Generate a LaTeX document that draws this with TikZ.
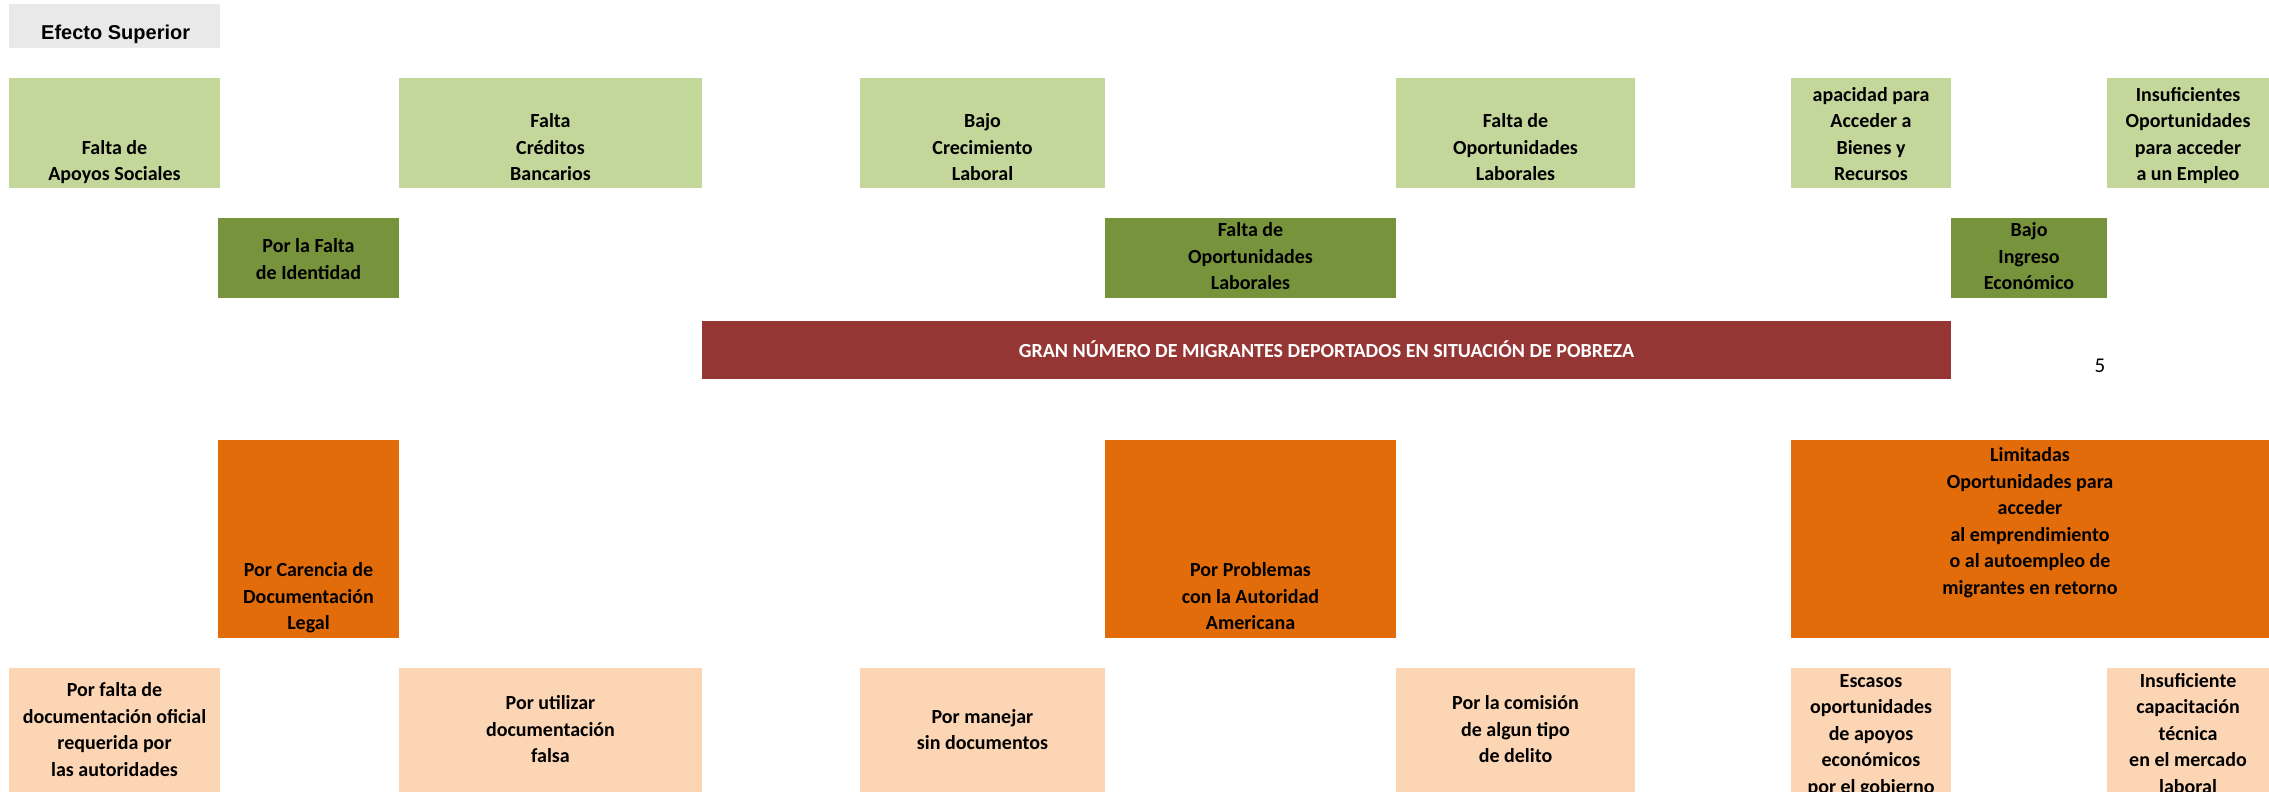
\documentclass[tikz,border=0pt]{standalone}
\usepackage{fontspec}
\setmainfont{Carlito}
\newfontfamily\arialfont{Liberation Sans}
\definecolor{lgreen}{HTML}{C4D79B}
\definecolor{dgreen}{HTML}{77933C}
\definecolor{darkred}{HTML}{963634}
\definecolor{orangebox}{HTML}{E26B0A}
\definecolor{peach}{HTML}{FCD5B4}
\definecolor{graybox}{HTML}{E9E9E9}
\newcommand\lns[1]{\vtop{\halign{\hfil##\hfil\cr#1\crcr}}}
\tikzset{
  cell/.style={draw=none, inner sep=0pt, outer sep=0pt, anchor=north west, rectangle},
  lg/.style={cell, fill=lgreen},
  dg/.style={cell, fill=dgreen},
  rb/.style={cell, fill=darkred},
  ob/.style={cell, fill=orangebox},
  pb/.style={cell, fill=peach},
  gb/.style={cell, fill=graybox},
  txt/.style={inner sep=0pt, anchor=base, font=\fontsize{20}{26.5}\selectfont\bfseries, text=black},
}
\begin{document}
\begin{tikzpicture}[x=1pt, y=-1pt]
\useasboundingbox (0,0) rectangle (2269,792);
\clip (0,0) rectangle (2269,792);

% header
\node[gb, minimum width=211pt, minimum height=44pt] (hdr) at (9,4) {};
\node[inner sep=0pt, anchor=base west, font=\arialfont\fontsize{20}{24}\selectfont\bfseries] (hdrt) at (41,40) {Efecto Superior};

% top row (effects)
\node[lg, minimum width=211pt, minimum height=110pt] (e1) at (9,78) {};
\node[lg, minimum width=303pt, minimum height=110pt] (e2) at (399,78) {};
\node[lg, minimum width=245pt, minimum height=110pt] (e3) at (860,78) {};
\node[lg, minimum width=239pt, minimum height=110pt] (e4) at (1396,78) {};
\node[lg, minimum width=160pt, minimum height=110pt] (e5) at (1791,78) {};
\node[lg, minimum width=162pt, minimum height=110pt] (e6) at (2107,78) {};
\node[txt] (e1t) at (114.5,154) {\lns{Falta de\cr Apoyos Sociales}};
\node[txt] (e2t) at (550.5,127.5) {\lns{Falta\cr Créditos\cr Bancarios}};
\node[txt] (e3t) at (982.5,127.5) {\lns{Bajo\cr Crecimiento\cr Laboral}};
\node[txt] (e4t) at (1515.5,127.5) {\lns{Falta de\cr Oportunidades\cr Laborales}};
\node[txt] (e5t) at (1871,101) {\lns{apacidad para\cr Acceder a\cr Bienes y\cr Recursos}};
\node[txt] (e6t) at (2188,101) {\lns{Insuficientes\cr Oportunidades\cr para acceder\cr a un Empleo}};

% dark green row
\node[dg, minimum width=181pt, minimum height=80pt] (d1) at (218,218) {};
\node[dg, minimum width=291pt, minimum height=80pt] (d2) at (1105,218) {};
\node[dg, minimum width=156pt, minimum height=80pt] (d3) at (1951,218) {};
\node[txt] (d1t) at (308.5,252.5) {\lns{Por la Falta\cr de Identidad}};
\node[txt] (d2t) at (1250.5,236.5) {\lns{Falta de\cr Oportunidades\cr Laborales}};
\node[txt] (d3t) at (2029,236.5) {\lns{Bajo\cr Ingreso\cr Económico}};

% central problem
\node[rb, minimum width=1249pt, minimum height=58pt] (prob) at (702,321) {};
\node[txt, text=white] (probt) at (1326.5,357) {GRAN NÚMERO DE MIGRANTES DEPORTADOS EN SITUACIÓN DE POBREZA};
\node[inner sep=0pt, anchor=base, font=\fontsize{21}{24}\selectfont] (pnum) at (2100,372) {5};

% orange row
\node[ob, minimum width=181pt, minimum height=198pt] (o1) at (218,440) {};
\node[ob, minimum width=291pt, minimum height=198pt] (o2) at (1105,440) {};
\node[ob, minimum width=478pt, minimum height=198pt] (o3) at (1791,440) {};
\node[txt] (o1t) at (308.5,576.5) {\lns{Por Carencia de\cr Documentación\cr Legal}};
\node[txt] (o2t) at (1250.5,576.5) {\lns{Por Problemas\cr con la Autoridad\cr Americana}};
\node[txt] (o3t) at (2030,461.5) {\lns{Limitadas\cr Oportunidades para\cr acceder\cr al emprendimiento\cr o al autoempleo de\cr migrantes en retorno}};

% peach row
\node[pb, minimum width=211pt, minimum height=140pt] (c1) at (9,668) {};
\node[pb, minimum width=303pt, minimum height=140pt] (c2) at (399,668) {};
\node[pb, minimum width=245pt, minimum height=140pt] (c3) at (860,668) {};
\node[pb, minimum width=239pt, minimum height=140pt] (c4) at (1396,668) {};
\node[pb, minimum width=160pt, minimum height=140pt] (c5) at (1791,668) {};
\node[pb, minimum width=162pt, minimum height=140pt] (c6) at (2107,668) {};
\node[txt] (c1t) at (114.5,696.5) {\lns{Por falta de\cr documentación oficial\cr requerida por\cr las autoridades}};
\node[txt] (c2t) at (550.5,709.5) {\lns{Por utilizar\cr documentación\cr falsa}};
\node[txt] (c3t) at (982.5,723) {\lns{Por manejar\cr sin documentos}};
\node[txt] (c4t) at (1515.5,709.5) {\lns{Por la comisión\cr de algun tipo\cr de delito}};
\node[txt] (c5t) at (1871,687) {\lns{Escasos\cr oportunidades\cr de apoyos\cr económicos\cr por el gobierno}};
\node[txt] (c6t) at (2188,687) {\lns{Insuficiente\cr capacitación\cr técnica\cr en el mercado\cr laboral}};
\end{tikzpicture}
\end{document}
